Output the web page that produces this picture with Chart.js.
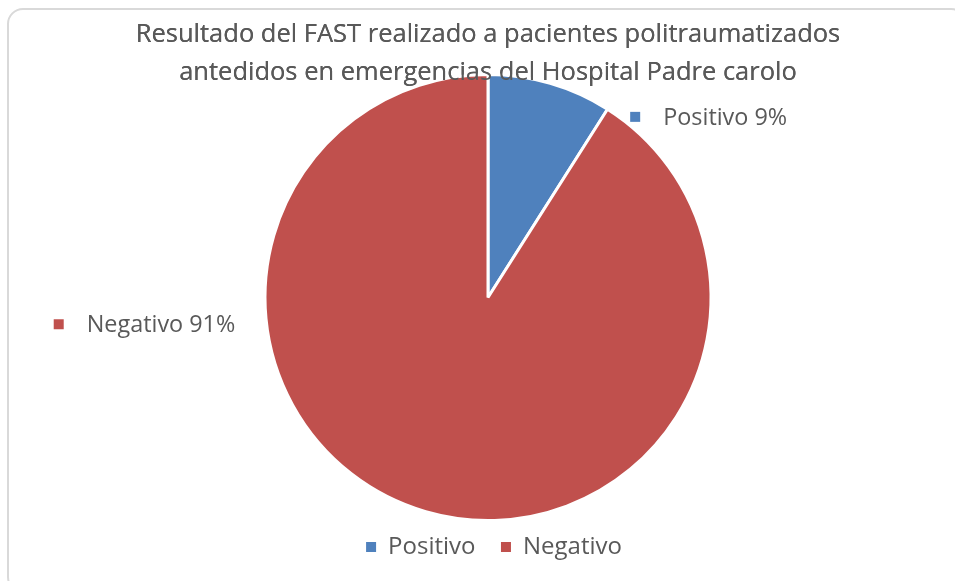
<!DOCTYPE html>
<html>
<head>
<meta charset="utf-8">
<script src="https://cdn.jsdelivr.net/npm/chart.js@4.4.1/dist/chart.umd.min.js"></script>
<style>
    html, body { margin: 0; padding: 0; background: #ffffff; overflow: hidden; }
    #frame {
        position: absolute; left: 7px; top: 8px; width: 960px; height: 585px;
        border: 2px solid #d9d9d9; border-radius: 16px; box-sizing: border-box;
    }
    #wrap { position: absolute; left: 0; top: 0; width: 955px; height: 581px; }
</style>
</head>
<body>
<div id="frame"></div>
<div id="wrap"><canvas id="fastChart"></canvas></div>
<script>
// chart data
const categories = ['Positivo', 'Negativo'];
const percentages = [9, 91];
const sliceColors = ['#4F81BD', '#C0504D'];
const titleLines = [
    'Resultado del FAST realizado a pacientes politraumatizados',
    'antedidos en emergencias del Hospital Padre carolo'
];
// where each outside label sits, in pie-radius units from the centre
const labelOffsets = [[0.66, -0.81], [-1.925, 0.12]];

const FONT = '"Open Sans"';
const TEXT_COLOR = '#595959';

// draws "■ Positivo 9%" style labels next to the pie
const outsideLabels = {
    id: 'outsideLabels',
    afterDatasetsDraw(chart) {
        const ctx = chart.ctx;
        const arcs = chart.getDatasetMeta(0).data;
        ctx.save();
        ctx.font = `23.4px ${FONT}`;
        ctx.textBaseline = 'middle';
        ctx.textAlign = 'left';
        arcs.forEach((arc, i) => {
            const r = arc.outerRadius;
            const mx = arc.x + labelOffsets[i][0] * r;
            const my = arc.y + labelOffsets[i][1] * r;
            ctx.fillStyle = sliceColors[i];
            ctx.fillRect(mx - 5, my - 5, 10, 10);
            ctx.fillStyle = TEXT_COLOR;
            ctx.fillText(`${categories[i]} ${percentages[i]}%`, mx + 28, my + 1);
        });
        ctx.restore();
        // title sits on top of the pie in the original
        if (chart.titleBlock) chart.titleBlock.draw();
    }
};

// nudge the legend a little to the right, like the original
const legendShift = {
    id: 'legendShift',
    afterLayout(chart) {
        if (chart.legend) {
            chart.legend.left += 6;
            chart.legend.right += 6;
        }
    }
};

new Chart(document.getElementById('fastChart'), {
    type: 'pie',
    data: {
        labels: categories,
        datasets: [{
            data: percentages,
            backgroundColor: sliceColors,
            borderColor: '#ffffff',
            borderWidth: 3
        }]
    },
    options: {
        responsive: true,
        maintainAspectRatio: false,
        animation: false,
        layout: { padding: { left: 21, right: 0, top: 0, bottom: 12 } },
        plugins: {
            title: {
                display: true,
                text: titleLines,
                color: TEXT_COLOR,
                font: { family: FONT, size: 25.5, weight: 'normal', lineHeight: 1.49 },
                padding: { top: 16, bottom: -19 }
            },
            legend: {
                position: 'bottom',
                labels: {
                    color: TEXT_COLOR,
                    font: { family: FONT, size: 24 },
                    boxWidth: 10,
                    boxHeight: 10,
                    padding: 13,
                    generateLabels(chart) {
                        // trailing spaces widen the gap between the two entries
                        return categories.map((c, i) => ({
                            text: i === 0 ? c + '  ' : c,
                            fillStyle: sliceColors[i],
                            strokeStyle: sliceColors[i],
                            lineWidth: 0,
                            fontColor: TEXT_COLOR,
                            index: i
                        }));
                    }
                }
            },
            tooltip: { enabled: false }
        }
    },
    plugins: [outsideLabels, legendShift]
});
</script>
</body>
</html>
